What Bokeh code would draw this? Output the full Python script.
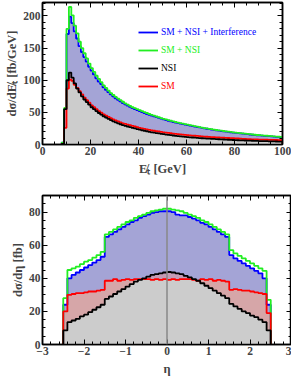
from bokeh.plotting import figure
from bokeh.models import Range1d, LinearAxis, Legend, LegendItem, Span, FixedTicker
from bokeh.layouts import column
from bokeh.embed import file_html
from bokeh.resources import INLINE

# ---------------- data: missing-ET distribution (1 GeV bins, lower edges 8..99) -------------
et_edges = list(range(8, 101))
et_sm_nsi_int = [3, 55, 172, 199, 189, 176, 165, 153, 144, 136, 129, 121, 115, 109, 103, 98, 94, 89, 85, 81.5,
                 78, 75, 72, 69.5, 67, 64.5, 62.5, 60.5, 58.5, 56.5, 55, 53.5, 52, 50.5, 49, 47.5, 46.2, 45, 43.8, 42.6,
                 41.4, 40.2, 39, 38, 37, 36, 35, 34.2, 33.4, 32.6, 31.8, 31, 30.2, 29.4, 28.6, 27.9, 27.2, 26.5, 25.8, 25.1,
                 24.5, 23.9, 23.3, 22.7, 22.1, 21.5, 21, 20.5, 20, 19.5, 19, 18.5, 18, 17.6, 17.2, 16.8, 16.4, 16, 15.6, 15.2,
                 14.8, 14.4, 14.1, 13.8, 13.5, 13.2, 12.9, 12.6, 12.3, 12, 11.7, 11.4]
et_sm_nsi = [3, 57, 180, 214, 201, 185, 173, 160, 150, 142, 134, 126, 119, 113, 107, 102, 97, 92, 88, 84,
             80, 77, 74, 71.5, 69, 66.5, 64, 62, 60, 58, 56.5, 55, 53.5, 52, 50.5, 49, 47.5, 46, 44.8, 43.6,
             42.4, 41.2, 40, 39, 38, 37, 36, 35, 34.2, 33.4, 32.6, 31.8, 31, 30.2, 29.4, 28.6, 27.8, 27, 26.3, 25.6,
             25, 24.4, 23.8, 23.2, 22.6, 22, 21.5, 21, 20.5, 20, 19.5, 19, 18.5, 18, 17.6, 17.2, 16.8, 16.4, 16, 15.6,
             15.2, 14.8, 14.5, 14.2, 13.9, 13.6, 13.3, 13, 12.7, 12.4, 12.1, 11.8]
et_nsi = [1, 55, 100, 112, 104, 95, 87, 81, 75, 70, 66, 62, 58, 55, 52, 49, 46.5, 44, 42, 40,
          38, 36, 34.5, 33, 31.5, 30, 29, 28, 27, 26, 25, 24, 23, 22.2, 21.4, 20.6, 19.8, 19, 18.4, 17.8,
          17.2, 16.6, 16, 15.5, 15, 14.5, 14, 13.5, 13.1, 12.7, 12.3, 11.9, 11.5, 11.2, 10.9, 10.6, 10.3, 10, 9.7, 9.4,
          9.2, 9, 8.8, 8.6, 8.4, 8.2, 8, 7.8, 7.6, 7.4, 7.2, 7, 6.8, 6.6, 6.5, 6.3, 6.2, 6, 5.9, 5.8,
          5.6, 5.5, 5.4, 5.3, 5.2, 5.1, 5, 4.9, 4.8, 4.7, 4.6, 4.5]
et_sm = [1, 26, 87, 101, 99, 93, 88, 83, 78, 73, 69, 65, 61, 58, 55, 52, 49.5, 47, 45, 43,
         41, 39, 37.5, 36, 34.5, 33, 32, 31, 30, 29, 28, 27, 26, 25.2, 24.4, 23.6, 22.8, 22, 21.4, 20.8,
         20.2, 19.6, 19, 18.5, 18, 17.5, 17, 16.5, 16.1, 15.7, 15.3, 14.9, 14.5, 14.2, 13.9, 13.6, 13.3, 13, 12.7, 12.4,
         12.1, 11.8, 11.5, 11.3, 11.1, 10.9, 10.7, 10.5, 10.3, 10.1, 9.9, 9.7, 9.5, 9.3, 9.1, 8.9, 8.7, 8.5, 8.3, 8.1,
         7.9, 7.8, 7.7, 7.6, 7.5, 7.4, 7.3, 7.2, 7.1, 7, 6.9, 6.8]

# ---------------- data: pseudorapidity distribution (0.1 bins from -2.5 to 2.5) -------------
eta_edges = [round(-2.5 + 0.1 * i, 1) for i in range(51)]
eta_sm_nsi_int = [24, 40, 42, 43.5, 45, 46.5, 48, 49.5, 51, 53, 65, 66.5, 68, 69.5, 71, 72.5, 74, 75, 76.5, 77.5,
                  78.5, 79.5, 80, 80.5, 80.5, 80.5, 80, 78.5, 78, 78, 77, 76, 75, 73.5, 72.5, 71, 69.5, 68, 66.5, 65,
                  54, 52, 50.5, 49, 47.5, 46, 44.5, 43, 40, 24]
eta_sm_nsi = [28, 45, 46, 47, 48.5, 50, 51, 52.5, 54, 56, 66.5, 68, 69.5, 71, 72.5, 74, 75, 76.5, 77.5, 78.5,
              79.5, 80.5, 81, 81.5, 82, 82, 81.5, 81, 80.5, 79.5, 78.5, 77.5, 76.5, 75, 74, 72.5, 71, 69.5, 68, 66.5,
              57, 55, 53.5, 52, 50.5, 49, 47.5, 46, 44.5, 27]
eta_nsi = [8.5, 13.5, 14.5, 15.5, 17, 18, 19.5, 21, 22.5, 24, 27.5, 29, 30.5, 32, 33.5, 35, 36.5, 38, 39, 40,
           41, 42, 42.5, 43, 43.5, 43.8, 43.5, 43, 42.5, 41.5, 40.5, 39.5, 38.5, 37, 35.5, 34, 32.5, 31, 29.5, 28,
           24.5, 23, 21.5, 20, 19, 17.5, 16.5, 15, 13.5, 8.5]
eta_sm = [20, 30, 30.5, 31, 31, 31.5, 32, 32, 32.5, 33, 38.5, 38.5, 39.5, 38.5, 39, 39.5, 39, 39.5, 39.5, 39.5,
          39.5, 39, 39.5, 39, 39.5, 39, 39.5, 39, 39.5, 39.5, 39.5, 39, 38.5, 39.5, 39, 39.5, 38.5, 39, 38.5, 38,
          33, 33.5, 33, 32.5, 32.5, 32, 31.5, 31, 30.5, 19]

top_xticks = [0, 20, 40, 60, 80, 100]
top_yticks = [0, 50, 100, 150, 200]
bot_xticks = [-3, -2, -1, 0, 1, 2, 3]
bot_yticks = [0, 20, 40, 60, 80]

labels = ["SM + NSI + Interference", "SM + NSI", "NSI", "SM"]
line_colors = ["#0000ff", "#22ee22", "#000000", "#ff0000"]

FILL_BLUE = "#a4a4d6"
FILL_RED = "#d6a6a8"
FILL_GRAY = "#cccccc"
FILL_MIX = "#c39cb6"
FONT = "Liberation Serif"


def outline_pts(edges, vals):
    xs = [edges[0]] + list(edges)
    ys = [0] + list(vals) + [0]
    return xs, ys


def style_axis(ax, ticks, show_labels=True):
    ax.major_tick_in = 5
    ax.major_tick_out = 0
    ax.minor_tick_in = 3
    ax.minor_tick_out = 0
    ax.axis_line_color = "black"
    ax.axis_line_width = 1.5
    ax.major_tick_line_width = 1
    ax.minor_tick_line_width = 1
    ax.major_label_text_font = FONT
    ax.major_label_text_font_style = "bold"
    ax.major_label_text_font_size = "11.5px"
    ax.axis_label_text_font = FONT
    ax.axis_label_text_font_style = "bold"
    ax.axis_label_text_font_size = "12.5px"
    ax.major_label_standoff = 2
    ax.axis_label_standoff = 1
    if show_labels:
        ax.major_label_overrides = {t: ("\u2212" + str(-t)) for t in ticks if t < 0}
    else:
        ax.major_label_overrides = {t: "" for t in ticks}
        ax.major_label_text_font_size = "1px"
        ax.major_label_standoff = 0


def make_panel(edges, series, xr, yr, xticks, yticks, minx, miny, xlabel, ylabel,
               fw, fh, bl, br, bt, bb):
    p = figure(frame_width=fw, frame_height=fh, x_range=Range1d(*xr), y_range=Range1d(*yr),
               output_backend="svg", toolbar_location=None, min_border_left=bl, min_border_right=br,
               min_border_top=bt, min_border_bottom=bb, background_fill_color="white",
               border_fill_color="white")
    p.grid.visible = False
    p.outline_line_color = "black"
    p.outline_line_width = 1.5

    blue, green, black, red = series
    low = [min(a, b) for a, b in zip(red, black)]
    high = [max(a, b) for a, b in zip(red, black)]
    ext = lambda v: list(v) + [v[-1]]
    zeros = [0] * len(edges)
    p.varea_step(x=edges, y1=zeros, y2=ext(blue), step_mode="after", fill_color=FILL_BLUE)
    p.varea_step(x=edges, y1=zeros, y2=ext(red), step_mode="after", fill_color=FILL_RED)
    p.varea_step(x=edges, y1=ext(red), y2=ext(high), step_mode="after", fill_color=FILL_MIX)
    p.varea_step(x=edges, y1=zeros, y2=ext(low), step_mode="after", fill_color=FILL_GRAY)

    rends = {}
    for vals, col, lab in [(blue, line_colors[0], labels[0]), (green, line_colors[1], labels[1]),
                           (red, line_colors[3], labels[3]), (black, line_colors[2], labels[2])]:
        xs, ys = outline_pts(edges, vals)
        rends[lab] = p.step(xs, ys, mode="after", line_color=col, line_width=1.8)

    p.xaxis[0].ticker = FixedTicker(ticks=xticks, minor_ticks=minx)
    p.yaxis[0].ticker = FixedTicker(ticks=yticks, minor_ticks=miny)
    p.xaxis[0].axis_label = xlabel
    p.yaxis[0].axis_label = ylabel
    style_axis(p.xaxis[0], xticks)
    style_axis(p.yaxis[0], yticks)
    p.xaxis[0].axis_label_standoff = 4

    ax_top = LinearAxis(ticker=FixedTicker(ticks=xticks, minor_ticks=minx))
    ax_right = LinearAxis(ticker=FixedTicker(ticks=yticks, minor_ticks=miny))
    style_axis(ax_top, xticks, False)
    style_axis(ax_right, yticks, False)
    p.add_layout(ax_top, "above")
    p.add_layout(ax_right, "right")
    return p, rends


def minor_list(lo, hi, step):
    out = []
    v = lo
    while v <= hi + 1e-9:
        out.append(round(v, 3))
        v += step
    return out


p1, r1 = make_panel(et_edges, (et_sm_nsi_int, et_sm_nsi, et_nsi, et_sm), (0, 100), (0, 221),
                    top_xticks, top_yticks, minor_list(0, 100, 5), minor_list(0, 220, 10),
                    "E\u0338\u209c [GeV]", "d\u03c3/dE\u0338\u209c [fb/GeV]",
                    240, 142, 42, 9, 2, 46)

legend_rows = [(labels[0], line_colors[0], 106), (labels[1], line_colors[1], 88),
               (labels[2], line_colors[2], 70), (labels[3], line_colors[3], 52)]
for lab, col, yoff in legend_rows:
    leg = Legend(items=[LegendItem(label=lab, renderers=[r1[lab]])], location=(96, yoff),
                 border_line_color=None, background_fill_alpha=0, padding=0, margin=0, spacing=0,
                 glyph_width=20, glyph_height=12, label_height=12, label_standoff=3,
                 label_text_font=FONT, label_text_font_size="9.5px", label_text_color=col)
    p1.add_layout(leg)

p2, r2 = make_panel(eta_edges, (eta_sm_nsi_int, eta_sm_nsi, eta_nsi, eta_sm), (-3, 3), (0, 90),
                    bot_xticks, bot_yticks, minor_list(-3, 3, 0.2), minor_list(0, 90, 5),
                    "\u03b7", "d\u03c3/d\u03b7 [fb]",
                    249, 149, 38, 4, 5, 43)
p2.xaxis[0].axis_label_text_font_style = "italic"
p2.add_layout(Span(location=0, dimension="height", line_color="#888888", line_width=1.5))

layout = column(p1, p2, spacing=0)
open("out.html", "w").write(file_html(layout, INLINE))
